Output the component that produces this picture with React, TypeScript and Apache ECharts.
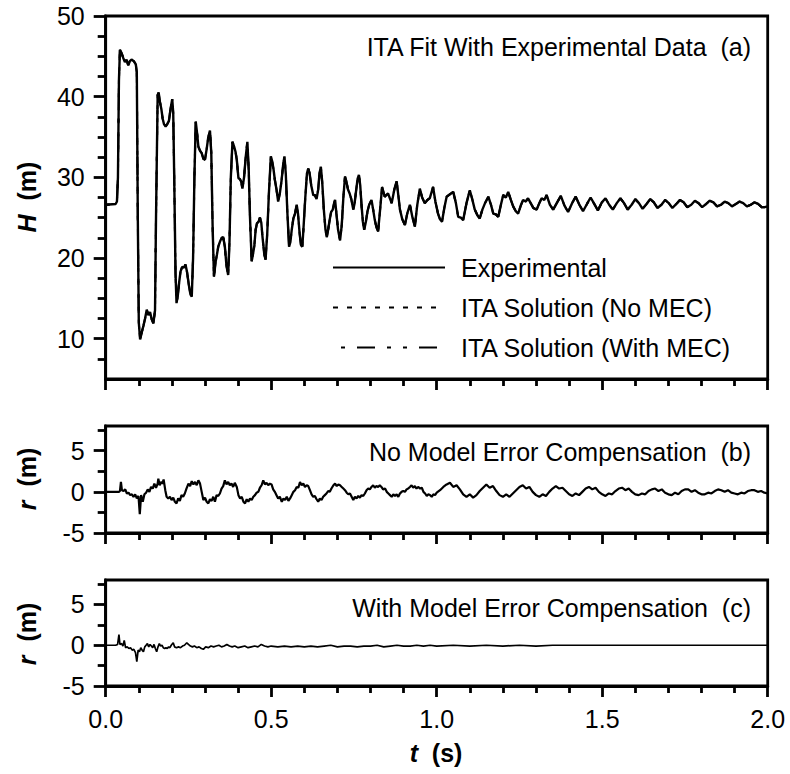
import React, { useEffect, useRef } from "react";
import * as echarts from "echarts";

// ---------- data ----------
const xTicks = ["0.0", "0.5", "1.0", "1.5", "2.0"];
const headLabels = [10, 20, 30, 40, 50];
const headMinorTicks = [7.5, 12.5, 15, 17.5, 22.5, 25, 27.5, 32.5, 35, 37.5, 42.5, 45, 47.5];
const residualLabels = [-5, 0, 5];
const residualMinorTicks = [-2.5, 2.5, 7.5];

const headTime = [
  0.000, 0.030, 0.034, 0.037, 0.040, 0.043, 0.048, 0.053, 0.058, 0.063, 0.068, 0.073, 0.078, 0.085, 0.091, 0.094, 0.097, 0.100,
  0.104, 0.109, 0.114, 0.119, 0.124, 0.129, 0.134, 0.139, 0.144, 0.149, 0.152, 0.157, 0.160, 0.164, 0.168, 0.172, 0.176, 0.181,
  0.186, 0.191, 0.196, 0.201, 0.204, 0.207, 0.211, 0.214, 0.218, 0.222, 0.226, 0.231, 0.236, 0.241, 0.246, 0.251, 0.256, 0.260,
  0.264, 0.268, 0.272, 0.276, 0.280, 0.285, 0.290, 0.295, 0.300, 0.305, 0.310, 0.315, 0.319, 0.323, 0.327, 0.332, 0.336, 0.340,
  0.345, 0.350, 0.355, 0.360, 0.365, 0.370, 0.374, 0.378, 0.383, 0.388, 0.392, 0.396, 0.401, 0.405, 0.409, 0.413, 0.418, 0.423,
  0.428, 0.432, 0.436, 0.441, 0.445, 0.449, 0.453, 0.457, 0.462, 0.466, 0.470, 0.474, 0.479, 0.483, 0.488, 0.493, 0.499, 0.503,
  0.507, 0.511, 0.516, 0.521, 0.526, 0.531, 0.536, 0.540, 0.544, 0.549, 0.554, 0.558, 0.562, 0.567, 0.572, 0.577, 0.581, 0.586,
  0.590, 0.594, 0.598, 0.603, 0.608, 0.612, 0.616, 0.621, 0.627, 0.632, 0.637, 0.642, 0.646, 0.650, 0.654, 0.659, 0.664, 0.668,
  0.672, 0.677, 0.681, 0.686, 0.690, 0.693, 0.697, 0.702, 0.708, 0.713, 0.718, 0.723, 0.727, 0.732, 0.737, 0.742, 0.748, 0.752,
  0.757, 0.761, 0.765, 0.769, 0.773, 0.777, 0.781, 0.786, 0.791, 0.796, 0.803, 0.808, 0.813, 0.818, 0.823, 0.829, 0.835, 0.843,
  0.853, 0.864, 0.872, 0.879, 0.884, 0.889, 0.896, 0.904, 0.911, 0.919, 0.927, 0.934, 0.941, 0.949, 0.956, 0.964, 0.972, 0.979,
  0.989, 0.996, 1.004, 1.010, 1.016, 1.023, 1.030, 1.040, 1.050, 1.058, 1.065, 1.073, 1.080, 1.090, 1.100, 1.108, 1.115, 1.123,
  1.130, 1.138, 1.146, 1.156, 1.164, 1.171, 1.179, 1.186, 1.194, 1.201, 1.209, 1.216, 1.224, 1.231, 1.239, 1.246, 1.254, 1.261,
  1.269, 1.276, 1.284, 1.292, 1.302, 1.310, 1.317, 1.325, 1.332, 1.342, 1.352, 1.364, 1.375, 1.386, 1.397, 1.409, 1.420, 1.431,
  1.442, 1.454, 1.465, 1.476, 1.487, 1.499, 1.510, 1.521, 1.532, 1.544, 1.555, 1.566, 1.577, 1.589, 1.600, 1.611, 1.622, 1.634,
  1.645, 1.656, 1.667, 1.679, 1.690, 1.701, 1.712, 1.724, 1.735, 1.746, 1.757, 1.769, 1.780, 1.791, 1.802, 1.814, 1.825, 1.836,
  1.847, 1.859, 1.870, 1.881, 1.892, 1.904, 1.915, 1.926, 1.937, 1.949, 1.960, 1.971, 1.982, 1.991, 2.000,
];
const headExperimental = [
  26.6, 26.7, 27.0, 30.0, 42.0, 45.8, 45.4, 44.8, 44.3, 44.6, 43.9, 44.4, 44.6, 44.4, 44.0, 43.0, 25.0, 12.0,
  9.9, 10.8, 11.6, 12.5, 13.6, 12.9, 13.3, 12.4, 11.9, 13.5, 25.0, 40.2, 40.5, 39.3, 38.5, 37.3, 36.6, 36.3,
  36.6, 37.0, 38.5, 39.7, 38.0, 30.0, 18.0, 14.4, 15.4, 17.0, 18.3, 18.9, 18.8, 19.2, 18.2, 16.7, 15.5, 15.2,
  20.0, 30.0, 36.9, 35.5, 33.8, 33.3, 33.0, 32.3, 32.2, 33.5, 35.0, 35.8, 33.0, 24.0, 17.7, 19.5, 20.4, 21.4,
  22.0, 22.5, 22.6, 21.4, 19.0, 17.9, 22.0, 30.0, 34.4, 33.8, 33.2, 32.2, 29.9, 29.8, 29.5, 28.6, 30.0, 32.5,
  34.4, 31.0, 25.0, 19.6, 20.5, 21.5, 23.5, 24.3, 24.5, 25.0, 24.4, 22.5, 20.5, 19.8, 23.0, 28.0, 32.6, 32.0,
  31.0, 29.7, 28.5, 27.0, 28.0, 29.5, 31.5, 32.6, 30.5, 25.5, 21.4, 22.0, 23.5, 24.9, 25.5, 26.6, 25.5, 23.0,
  21.6, 21.4, 24.0, 27.5, 30.5, 31.1, 30.5, 29.0, 27.8, 27.8, 27.3, 28.5, 30.5, 31.3, 29.5, 26.0, 23.5, 22.6,
  23.5, 24.8, 25.7, 26.0, 26.8, 27.2, 25.5, 23.5, 22.2, 24.0, 27.5, 30.1, 29.5, 28.5, 28.0, 27.3, 26.0, 26.8,
  28.5, 29.8, 30.3, 29.0, 26.5, 24.5, 23.5, 24.5, 25.8, 26.6, 27.2, 26.0, 24.7, 23.8, 23.3, 26.0, 28.8, 27.6,
  28.0, 26.8, 28.5, 29.5, 27.8, 26.0, 24.8, 24.1, 25.5, 26.6, 25.0, 23.9, 26.5, 28.6, 27.5, 26.8, 27.2, 27.4,
  28.8, 27.0, 25.5, 24.8, 24.5, 26.2, 27.6, 27.9, 28.2, 26.8, 25.1, 25.0, 24.7, 26.8, 28.4, 27.2, 26.0, 25.3,
  24.9, 26.0, 26.8, 27.6, 26.6, 25.5, 25.4, 25.1, 26.6, 27.8, 27.5, 28.2, 27.2, 26.4, 25.8, 25.5, 26.5, 27.2,
  27.0, 27.4, 26.8, 26.2, 26.0, 26.8, 27.4, 27.2, 27.8, 26.6, 26.0, 26.9, 27.7, 26.5, 25.7, 26.8, 27.6, 26.6,
  25.8, 26.7, 27.5, 26.7, 25.9, 26.9, 27.4, 26.6, 26.0, 26.8, 27.4, 26.8, 26.0, 26.6, 27.3, 26.8, 26.1, 26.7,
  27.3, 26.9, 26.2, 26.6, 27.2, 26.8, 26.2, 26.7, 27.2, 26.9, 26.3, 26.6, 27.1, 26.8, 26.3, 26.7, 27.1, 26.9,
  26.4, 26.6, 27.0, 26.8, 26.4, 26.7, 27.0, 26.8, 26.4, 26.6, 26.9, 26.7, 26.3, 26.3, 26.4,
];

const resBTime = [
  0.000, 0.020, 0.040, 0.043, 0.046, 0.049, 0.054, 0.059, 0.064, 0.069, 0.074, 0.079, 0.084, 0.089, 0.094, 0.099, 0.103, 0.107,
  0.112, 0.117, 0.122, 0.127, 0.132, 0.137, 0.142, 0.147, 0.152, 0.157, 0.159, 0.163, 0.167, 0.171, 0.175, 0.180, 0.184, 0.189,
  0.194, 0.199, 0.204, 0.209, 0.214, 0.219, 0.224, 0.229, 0.234, 0.239, 0.244, 0.250, 0.255, 0.260, 0.265, 0.270, 0.275, 0.280,
  0.285, 0.290, 0.295, 0.300, 0.305, 0.310, 0.315, 0.320, 0.325, 0.330, 0.335, 0.340, 0.345, 0.350, 0.355, 0.360, 0.365, 0.370,
  0.375, 0.380, 0.385, 0.390, 0.396, 0.401, 0.406, 0.411, 0.416, 0.421, 0.426, 0.431, 0.436, 0.441, 0.446, 0.451, 0.456, 0.461,
  0.466, 0.471, 0.476, 0.481, 0.486, 0.491, 0.496, 0.501, 0.506, 0.511, 0.516, 0.521, 0.526, 0.532, 0.537, 0.542, 0.547, 0.552,
  0.557, 0.562, 0.567, 0.572, 0.577, 0.582, 0.587, 0.592, 0.597, 0.602, 0.607, 0.612, 0.617, 0.622, 0.627, 0.632, 0.637, 0.642,
  0.647, 0.652, 0.657, 0.662, 0.667, 0.672, 0.677, 0.682, 0.688, 0.693, 0.698, 0.703, 0.708, 0.713, 0.718, 0.723, 0.728, 0.733,
  0.738, 0.743, 0.748, 0.753, 0.758, 0.763, 0.768, 0.773, 0.778, 0.783, 0.788, 0.793, 0.798, 0.803, 0.808, 0.813, 0.818, 0.823,
  0.828, 0.833, 0.838, 0.844, 0.849, 0.854, 0.859, 0.864, 0.869, 0.874, 0.879, 0.884, 0.889, 0.894, 0.899, 0.904, 0.909, 0.914,
  0.919, 0.924, 0.929, 0.934, 0.939, 0.944, 0.950, 0.955, 0.960, 0.965, 0.970, 0.975, 0.980, 0.985, 0.990, 0.995, 1.000,
  1.01, 1.02, 1.03, 1.04, 1.05, 1.06, 1.07, 1.08, 1.09, 1.10, 1.11, 1.12, 1.13, 1.14, 1.15, 1.16, 1.17, 1.18, 1.19, 1.20,
  1.21, 1.22, 1.23, 1.24, 1.25, 1.26, 1.27, 1.28, 1.29, 1.30, 1.31, 1.32, 1.33, 1.34, 1.35, 1.36, 1.37, 1.38, 1.39, 1.40,
  1.41, 1.42, 1.43, 1.44, 1.45, 1.46, 1.47, 1.48, 1.49, 1.50, 1.51, 1.52, 1.53, 1.54, 1.55, 1.56, 1.57, 1.58, 1.59, 1.60,
  1.61, 1.62, 1.63, 1.64, 1.65, 1.66, 1.67, 1.68, 1.69, 1.70, 1.71, 1.72, 1.73, 1.74, 1.75, 1.76, 1.77, 1.78, 1.79, 1.80,
  1.81, 1.82, 1.83, 1.84, 1.85, 1.86, 1.87, 1.88, 1.89, 1.90, 1.91, 1.92, 1.93, 1.94, 1.95, 1.96, 1.97, 1.98, 1.99, 2.00,
];
const resBNoMec = [
  0.0, 0.0, 0.0, 0.1, 1.2, 0.2, 0.1, 0.3, -0.2, -0.1, -0.4, -0.3, -0.6, -0.3, -0.8, -0.5, -2.7, -0.4,
  -1.2, -0.3, -0.1, 0.3, 0.0, 0.6, 0.4, 1.0, 0.5, 1.0, 1.6, 0.8, 1.2, 1.0, 1.5, 0.2, -0.6, -0.8,
  -0.6, -1.0, -0.7, -1.2, -1.4, -0.8, -1.1, -0.4, -0.6, -0.2, 0.4, 1.0, 0.7, 1.3, 0.9, 1.2, 0.8, 1.4,
  1.0, 0.0, -1.0, -0.7, -1.2, -1.4, -0.9, -1.1, -0.6, -1.2, -0.4, -0.5, -0.2, 0.4, 0.7, 1.4, 0.9, 1.2,
  0.8, 1.0, 0.6, 1.1, 0.6, -0.4, -0.8, -0.6, -1.2, -1.4, -0.9, -1.2, -0.8, -1.0, -0.6, -0.4, -0.1, 0.0,
  0.5, 0.8, 1.4, 0.9, 1.1, 0.8, 1.0, 0.9, 0.3, 0.0, -0.4, -0.8, -0.6, -1.2, -0.8, -1.0, -0.6, -1.1,
  -0.8, -0.4, 0.0, 0.2, 0.6, 0.5, 1.2, 0.8, 1.0, 0.6, 0.8, 0.7, 0.2, -0.3, -0.6, -0.5, -0.9, -1.2,
  -0.8, -1.0, -0.6, -0.4, -0.2, 0.1, 0.0, 0.4, 0.8, 1.0, 0.7, 0.9, 0.8, 0.6, 0.4, 0.2, -0.1, -0.3,
  -0.2, -0.6, -1.0, -0.6, -0.8, -0.5, -0.7, -0.4, -0.5, -0.2, 0.2, 0.4, 0.3, 0.6, 0.8, 0.5, 0.7, 0.6,
  0.8, 0.6, 0.3, 0.4, 0.0, -0.2, -0.4, -0.6, -0.3, -0.5, -0.3, -0.6, -0.2, 0.0, 0.1, 0.0, 0.3, 0.4,
  0.6, 0.8, 0.5, 0.7, 0.4, 0.6, 0.4, 0.5, 0.0, -0.2, -0.5, -0.3, -0.4, -0.6, -0.3, -0.4, -0.1,
  0.2, 0.6, 0.9, 1.1, 0.6, 0.8, 0.3, -0.3, -0.6, -0.3, -0.7, -0.4, 0.1, 0.5, 0.9, 0.5, 0.7, 0.1, -0.4, -0.6,
  -0.3, -0.6, -0.2, 0.2, 0.6, 0.8, 0.4, 0.6, 0.0, -0.4, -0.6, -0.3, -0.5, 0.0, 0.4, 0.7, 0.4, 0.5, 0.1, -0.3,
  -0.5, -0.2, -0.4, 0.0, 0.4, 0.6, 0.3, 0.5, 0.0, -0.3, -0.5, -0.2, -0.3, 0.1, 0.4, 0.5, 0.2, 0.4, 0.0, -0.3,
  -0.4, -0.2, -0.3, 0.1, 0.3, 0.4, 0.1, 0.3, -0.1, -0.3, -0.4, -0.1, -0.3, 0.1, 0.3, 0.3, 0.0, 0.2, -0.1, -0.3,
  -0.3, -0.1, -0.2, 0.1, 0.3, 0.2, 0.0, 0.2, -0.1, -0.2, -0.3, -0.1, -0.2, 0.1, 0.2, 0.2, 0.0, 0.1, -0.1, -0.2,
];

const resCTime = [
  0.000, 0.030, 0.036, 0.040, 0.043, 0.048, 0.052, 0.056, 0.060, 0.065, 0.070, 0.075, 0.080, 0.085, 0.090, 0.094, 0.098, 0.102,
  0.106, 0.110, 0.114, 0.118, 0.122, 0.126, 0.130, 0.134, 0.138, 0.142, 0.146, 0.150, 0.154, 0.158, 0.162, 0.166, 0.170, 0.174,
  0.178, 0.182, 0.186, 0.190, 0.194, 0.198, 0.204, 0.208, 0.214, 0.220, 0.226, 0.232, 0.238, 0.245, 0.250, 0.256, 0.262, 0.268,
  0.275, 0.282, 0.289, 0.295, 0.302, 0.310, 0.318, 0.326, 0.334, 0.342, 0.350, 0.358, 0.366, 0.374, 0.382, 0.390, 0.400, 0.410,
  0.420, 0.430, 0.440, 0.450, 0.460, 0.470, 0.480, 0.490, 0.500, 0.520, 0.540, 0.560, 0.580, 0.600, 0.620, 0.640, 0.660, 0.680,
  0.700, 0.720, 0.740, 0.760, 0.780, 0.800, 0.820, 0.840, 0.860, 0.880, 0.900, 0.920, 0.940, 0.960, 0.980, 1.000, 1.050, 1.100,
  1.150, 1.200, 1.250, 1.300, 1.350, 2.000,
];
const resCWithMec = [
  0.0, 0.0, 0.1, 1.3, 0.1, 0.2, -0.1, 0.6, -0.3, -0.2, -0.4, -0.3, -0.6, -0.5, -0.9, -2.0, -0.6, -0.8,
  -0.3, -0.6, -0.8, -0.2, 0.0, 0.2, -0.2, 0.1, -0.1, -0.3, 0.1, -0.4, -0.8, -0.2, 0.2, -0.1, 0.0, -0.3,
  -0.4, -0.3, -0.4, -0.2, -0.3, 0.0, 0.3, -0.2, -0.3, -0.2, -0.3, -0.1, 0.0, 0.3, 0.1, -0.1, -0.2, -0.1,
  -0.3, -0.2, -0.4, -0.5, -0.2, -0.3, -0.1, -0.2, -0.1, 0.0, -0.2, -0.1, 0.1, -0.1, -0.2, -0.1, -0.3, -0.2,
  -0.1, -0.3, -0.2, -0.1, -0.2, 0.1, -0.1, -0.2, -0.1, -0.2, -0.1, -0.2, -0.1, -0.2, -0.1, -0.2, -0.1, 0.0,
  -0.2, -0.1, -0.1, -0.2, -0.1, -0.1, 0.0, -0.2, -0.1, 0.0, -0.1, -0.1, 0.0, -0.1, 0.0, -0.1, 0.0, -0.1,
  0.0, -0.1, 0.0, -0.1, 0.0, 0.0,
];

const seriesNames = ["Experimental", "ITA Solution (No MEC)", "ITA Solution (With MEC)"];
const panelNotes = [
  "ITA Fit With Experimental Data  (a)",
  "No Model Error Compensation  (b)",
  "With Model Error Compensation  (c)",
];

// ---------- layout ----------
const FONT = '"Liberation Sans", Arial, Helvetica, sans-serif';
const PLOT_LEFT = 105.7;
const PLOT_W = 662;
const PANELS = [
  { top: 16, height: 363, min: 5, max: 50 },
  { top: 426, height: 107, min: -5, max: 8 },
  { top: 580, height: 106, min: -5, max: 8 },
];
const AXIS_W = 2.8;

const pairs = (t: number[], v: number[]) => t.map((x, i) => [x, v[i]]);

export default function App() {
  const ref = useRef<HTMLDivElement>(null);

  useEffect(() => {
    if (!ref.current) return;
    const chart = echarts.init(ref.current, undefined, { renderer: "svg" });

    const axisLineStyle = { color: "#000", width: AXIS_W };

    const grid = PANELS.map((p) => ({
      left: PLOT_LEFT,
      top: p.top,
      width: PLOT_W,
      height: p.height,
      show: true,
      borderColor: "#000",
      borderWidth: AXIS_W,
      backgroundColor: "transparent",
      containLabel: false,
    }));

    const xAxis = PANELS.map((_, i) => ({
      type: "value",
      gridIndex: i,
      min: 0,
      max: 2,
      interval: 0.5,
      axisLine: { show: true, onZero: false, lineStyle: axisLineStyle },
      axisTick: { show: true, inside: false, length: 11, lineStyle: axisLineStyle },
      minorTick: { show: true, splitNumber: 5, length: 7, lineStyle: axisLineStyle },
      splitLine: { show: false },
      minorSplitLine: { show: false },
      axisLabel: {
        show: i === 2,
        margin: 20,
        fontSize: 25,
        fontFamily: FONT,
        color: "#000",
        formatter: (v: number) => {
          const s = v.toFixed(1);
          return xTicks.includes(s) ? s : "";
        },
      },
    }));

    const yAxis: any[] = [];
    PANELS.forEach((p, i) => {
      const labels = i === 0 ? headLabels : residualLabels;
      const minors = i === 0 ? headMinorTicks : residualMinorTicks;
      yAxis.push({
        type: "value",
        gridIndex: i,
        min: p.min,
        max: p.max,
        axisLine: { show: true, onZero: false, lineStyle: axisLineStyle },
        axisTick: { show: true, length: 12, customValues: labels, lineStyle: axisLineStyle },
        splitLine: { show: false },
        axisLabel: {
          show: true,
          customValues: labels,
          margin: 21,
          fontSize: 25,
          fontFamily: FONT,
          color: "#000",
          showMinLabel: true,
          showMaxLabel: true,
        },
      });
      yAxis.push({
        type: "value",
        gridIndex: i,
        min: p.min,
        max: p.max,
        position: "left",
        axisLine: { show: false },
        axisTick: { show: true, length: 8, customValues: minors, lineStyle: axisLineStyle },
        splitLine: { show: false },
        axisLabel: { show: false },
      });
    });

    const headData = pairs(headTime, headExperimental);
    const lineBase = { type: "line", showSymbol: false, symbol: "none", animation: false, clip: true };

    const series: any[] = [
      {
        ...lineBase,
        name: seriesNames[1],
        xAxisIndex: 0,
        yAxisIndex: 0,
        data: headData,
        z: 2,
        lineStyle: { color: "#000", width: 2, type: [4, 9] },
      },
      {
        ...lineBase,
        name: seriesNames[2],
        xAxisIndex: 0,
        yAxisIndex: 0,
        data: headData,
        z: 2,
        lineStyle: { color: "#000", width: 2, type: [4, 12, 18, 12] },
      },
      {
        ...lineBase,
        name: seriesNames[0],
        xAxisIndex: 0,
        yAxisIndex: 0,
        data: headData,
        z: 3,
        lineStyle: { color: "#000", width: 2.4 },
      },
      {
        ...lineBase,
        name: "Residual (No MEC)",
        xAxisIndex: 1,
        yAxisIndex: 2,
        data: pairs(resBTime, resBNoMec),
        lineStyle: { color: "#000", width: 2.2 },
      },
      {
        ...lineBase,
        name: "Residual (With MEC)",
        xAxisIndex: 2,
        yAxisIndex: 4,
        data: pairs(resCTime, resCWithMec),
        lineStyle: { color: "#000", width: 1.7 },
      },
    ];

    const noteY = [47, 452, 607.5];
    const textBase = { fontFamily: FONT, fontSize: 25, fill: "#000" };
    const graphic: any[] = [];
    panelNotes.forEach((t, i) => {
      graphic.push({
        type: "text",
        x: 751,
        y: noteY[i],
        silent: true,
        style: { ...textBase, text: t, align: "right", verticalAlign: "middle" },
      });
    });

    // legend
    const legendY = [267.5, 307.5, 347.5];
    const legendDash: any[] = [null, [5, 9], [4, 12, 18, 12, 4, 12]];
    seriesNames.forEach((name, i) => {
      graphic.push({
        type: "line",
        silent: true,
        shape: { x1: i === 2 ? 341 : 333, y1: legendY[i], x2: 445, y2: legendY[i] },
        style: { stroke: "#000", lineWidth: 2, lineDash: legendDash[i] || undefined },
      });
      graphic.push({
        type: "text",
        x: 461,
        y: legendY[i],
        silent: true,
        style: { ...textBase, text: name, align: "left", verticalAlign: "middle" },
      });
    });

    // axis titles
    const rich = {
      i: { fontFamily: FONT, fontSize: 25, fontStyle: "italic", fontWeight: "bold", fill: "#000" },
      b: { fontFamily: FONT, fontSize: 25, fontWeight: "bold", fill: "#000" },
    };
    const yTitles = [
      { t: "H", cy: 197 },
      { t: "r", cy: 479 },
      { t: "r", cy: 634 },
    ];
    yTitles.forEach((yt) => {
      graphic.push({
        type: "text",
        x: 27,
        y: yt.cy,
        rotation: Math.PI / 2,
        silent: true,
        style: { text: `{i|${yt.t}}{b|  (m)}`, rich, align: "center", verticalAlign: "middle" },
      });
    });
    graphic.push({
      type: "text",
      x: 436,
      y: 753,
      silent: true,
      style: { text: "{i|t}{b|  (s)}", rich, align: "center", verticalAlign: "middle" },
    });

    chart.setOption({
      animation: false,
      backgroundColor: "#fff",
      textStyle: { fontFamily: FONT },
      grid,
      xAxis,
      yAxis,
      series,
      graphic,
    } as any);

    return () => chart.dispose();
  }, []);

  return (
    <div
      ref={ref}
      style={{ position: "fixed", left: 0, top: 0, width: 790, height: 774, background: "#fff" }}
    />
  );
}
